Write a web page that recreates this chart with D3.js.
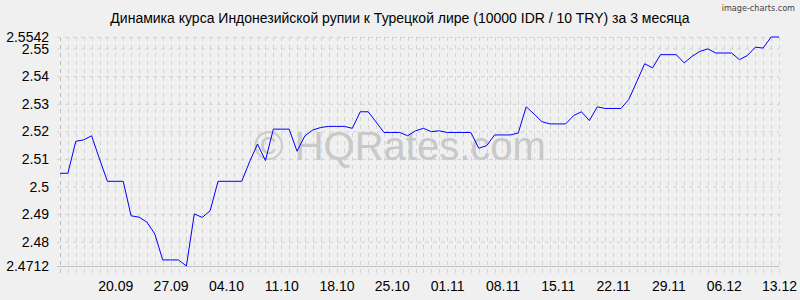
<!DOCTYPE html>
<html>
<head>
<meta charset="utf-8">
<script src="https://cdn.jsdelivr.net/npm/d3@7"></script>
<style>
    body { margin: 0; background: #f0f0f0; }
    svg { display: block; font-family: "Liberation Sans", Arial, sans-serif; }
</style>
</head>
<body>
<svg id="chart"></svg>
<script>
// Chart data: one rate per day, 13.09 .. 13.12
var startDay = '13.09.2023';
var endDay = '13.12.2023';
var rates = [
    2.5048, 2.5048, 2.5164, 2.5169, 2.5184, 2.5100, 2.5019, 2.5019, 2.5019, 2.4894,
    2.4889, 2.4871, 2.4828, 2.4734, 2.4734, 2.4734, 2.4712, 2.4901, 2.4888, 2.4912,
    2.5019, 2.5019, 2.5019, 2.5019, 2.5090, 2.5154, 2.5094, 2.5208, 2.5208, 2.5208,
    2.5128, 2.5184, 2.5205, 2.5214, 2.5218, 2.5218, 2.5218, 2.5211, 2.5271, 2.5271,
    2.5234, 2.5196, 2.5196, 2.5196, 2.5184, 2.5202, 2.5211, 2.5199, 2.5202, 2.5196,
    2.5196, 2.5196, 2.5196, 2.5139, 2.5148, 2.5187, 2.5187, 2.5187, 2.5194, 2.5289,
    2.5263, 2.5235, 2.5227, 2.5227, 2.5227, 2.5257, 2.5271, 2.5239, 2.5289, 2.5283,
    2.5283, 2.5283, 2.5316, 2.5380, 2.5445, 2.5430, 2.5478, 2.5478, 2.5478, 2.5448,
    2.5472, 2.5490, 2.5499, 2.5484, 2.5484, 2.5484, 2.5460, 2.5475, 2.5505, 2.5502,
    2.5542, 2.5542
];
var xTickLabels = ['20.09', '27.09', '04.10', '11.10', '18.10', '25.10', '01.11',
    '08.11', '15.11', '22.11', '29.11', '06.12', '13.12'];
var yTicks = [2.4712, 2.48, 2.49, 2.5, 2.51, 2.52, 2.53, 2.54, 2.55, 2.5542];
var title = 'Динамика курса Индонезийской рупии к Турецкой лире (10000 IDR / 10 TRY) за 3 месяца';

var width = 800;
var height = 300;
// plot box (window.top is taken, so prefixed names)
var plotLeft = 60, plotRight = 779, plotTop = 37, plotBottom = 266;

var parseDay = d3.utcParse('%d.%m.%Y');
var first = parseDay(startDay);
var last = parseDay(endDay);
var days = d3.utcDay.range(first, d3.utcDay.offset(last, 1));
var data = rates.map((v, i) => ({ date: days[i], value: v }));

var svg = d3.select('#chart')
    .attr('width', width)
    .attr('height', height);

svg.append('rect')
    .attr('width', width)
    .attr('height', height)
    .attr('fill', '#f0f0f0');

// Scales
var xScale = d3.scaleUtc()
    .domain([first, last])
    .range([plotLeft, plotRight]);

var yScale = d3.scaleLinear()
    .domain([d3.min(yTicks), d3.max(yTicks)])
    .range([plotBottom, plotTop]);

// Vertical grid, one dashed line per day, running a bit below the axis
svg.append('g')
    .selectAll('line')
    .data(days)
    .enter()
    .append('line')
    .attr('x1', d => Math.round(xScale(d)) + 0.5)
    .attr('x2', d => Math.round(xScale(d)) + 0.5)
    .attr('y1', plotTop)
    .attr('y2', plotBottom + 11)
    .attr('stroke', (d, i) => i === 0 ? '#bcbcbc' : '#d2d2d2')
    .attr('stroke-dasharray', '4,4');

// Horizontal grid
var yAxis = d3.axisLeft(yScale)
    .tickValues(yTicks)
    .tickSize(-(plotRight - plotLeft) - 3)
    .tickPadding(8)
    .tickFormat(d => String(+d.toFixed(4)));

var yg = svg.append('g')
    .attr('transform', `translate(${plotLeft - 3}, 0)`)
    .call(yAxis);

yg.select('.domain').remove();
yg.selectAll('.tick line')
    .attr('stroke', (d, i) => i === 0 ? '#c0c0c0' : '#d2d2d2')
    .attr('stroke-dasharray', (d, i) => i === 0 ? null : '4,4');
yg.selectAll('.tick text')
    .attr('fill', '#000')
    .style('font-size', '14px');

// X axis labels
var xAxis = d3.axisBottom(xScale)
    .tickValues(xTickLabels.map(l => parseDay(l + '.2023')))
    .tickSize(0)
    .tickPadding(15)
    .tickFormat(d3.utcFormat('%d.%m'));

var xg = svg.append('g')
    .attr('transform', `translate(0, ${plotBottom})`)
    .call(xAxis);

xg.select('.domain').remove();
xg.selectAll('.tick text')
    .attr('fill', '#000')
    .style('font-size', '14px');

// Watermark
svg.append('text')
    .attr('x', 400)
    .attr('y', 160)
    .attr('text-anchor', 'middle')
    .attr('fill', '#c9c9c9')
    .style('font-size', '40px')
    .text('© HQRates.com');

// Rate line
var line = d3.line()
    .x(d => xScale(d.date))
    .y(d => yScale(d.value));

svg.append('path')
    .datum(data)
    .attr('fill', 'none')
    .attr('stroke', '#0000ff')
    .attr('stroke-width', 1)
    .attr('d', line);

// Title
svg.append('text')
    .attr('x', 400)
    .attr('y', 23)
    .attr('text-anchor', 'middle')
    .attr('fill', '#000')
    .style('font-size', '14px')
    .text(title);

svg.append('text')
    .attr('x', 795)
    .attr('y', 11)
    .attr('text-anchor', 'end')
    .attr('fill', '#444')
    .style('font-family', '"DejaVu Sans Condensed", "DejaVu Sans", sans-serif')
    .style('font-size', '9px')
    .text('image-charts.com');
</script>
</body>
</html>
